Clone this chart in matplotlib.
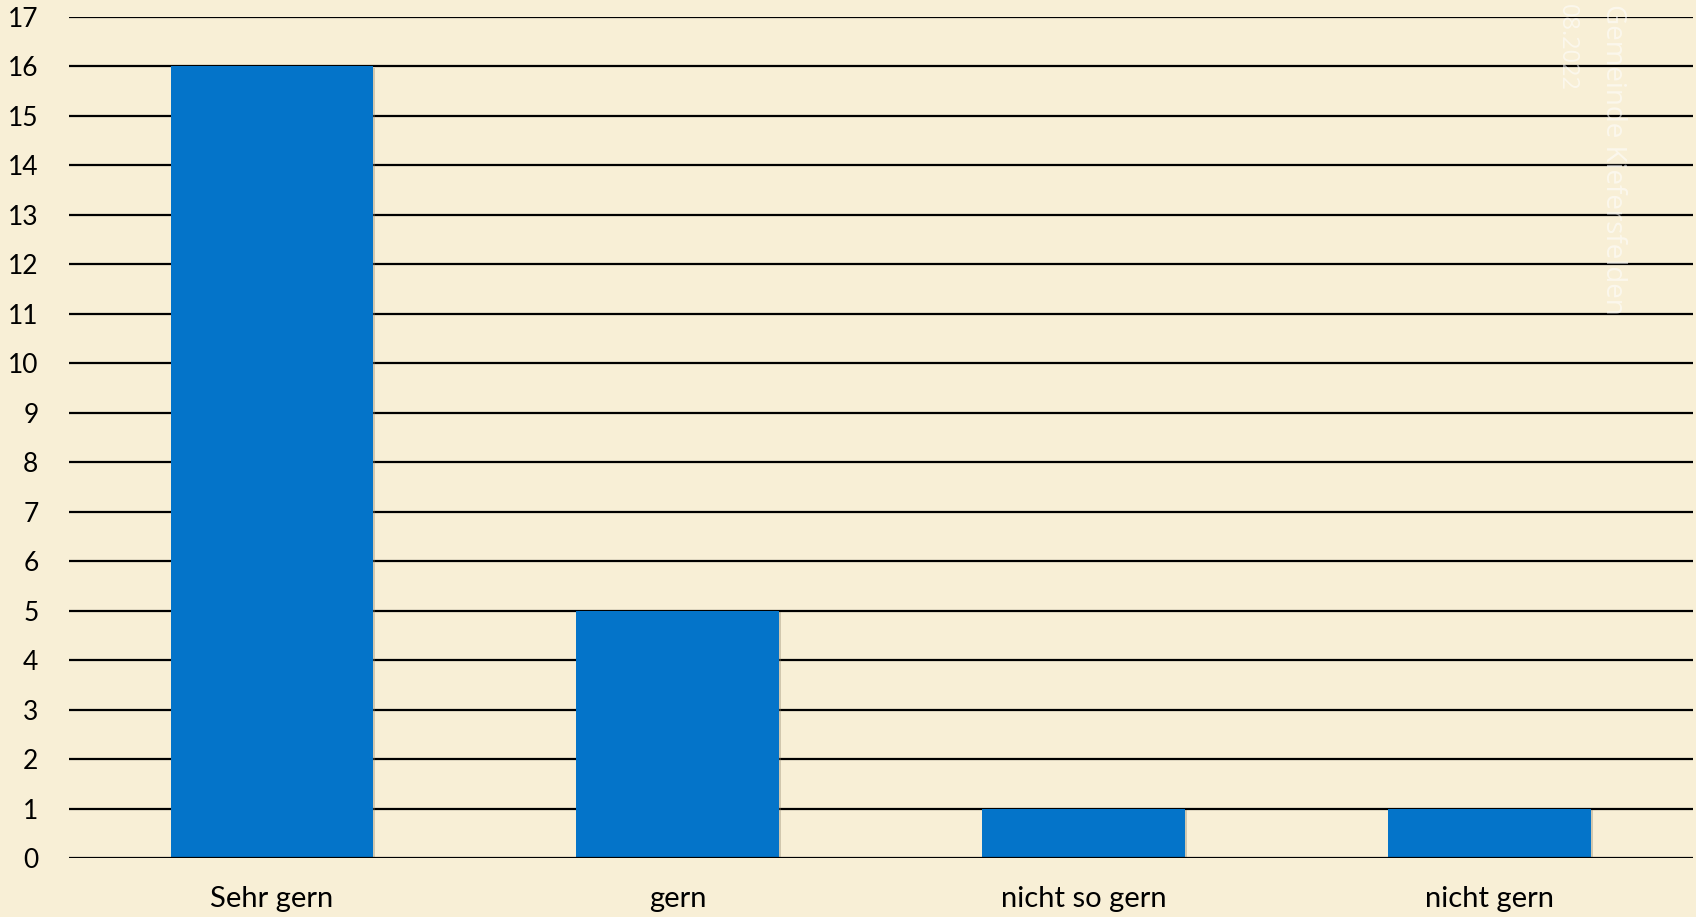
import matplotlib
matplotlib.use("Agg")
import matplotlib.pyplot as plt
import matplotlib.patheffects as pe

# ─────────────────────────────────────────────
# Data
# ─────────────────────────────────────────────
categories = ["Sehr gern", "gern", "nicht so gern", "nicht gern"]
counts     = [16, 5, 1, 1]
y_ticks    = list(range(0, 18))

# ─────────────────────────────────────────────
# Style
# ─────────────────────────────────────────────
BG_COLOR  = "#F8EFD6"
BAR_COLOR = "#0474C9"
FONT      = ["Lato", "DejaVu Sans"]

plt.rcParams["font.family"] = FONT

fig = plt.figure(figsize=(16.96, 9.17), dpi=100, facecolor=BG_COLOR)
ax = fig.add_axes([0.0407, 0.064, 0.9573, 0.9175])
ax.set_facecolor(BG_COLOR)

x = list(range(len(categories)))
bars = ax.bar(x, counts, width=0.5, color=BAR_COLOR, zorder=3)
for b in bars:
    b.set_path_effects([pe.SimplePatchShadow(offset=(1, -1), shadow_rgbFace="#8a7f66", alpha=0.35),
                        pe.Normal()])

# horizontal grid lines
for v in y_ticks:
    ax.axhline(v, color="black", lw=1.6, zorder=2 if v > 0 else 4)

ax.set_xlim(-0.5, len(categories) - 0.5)
ax.set_ylim(0, 17)
ax.set_yticks(y_ticks)
ax.set_yticklabels([str(v) for v in y_ticks], fontsize=19)
ax.set_xticks(x)
ax.set_xticklabels(categories, fontsize=21)
ax.tick_params(axis="y", length=0, pad=22)
ax.tick_params(axis="x", length=0, pad=20)
for s in ax.spines.values():
    s.set_visible(False)

# watermark (faint, rotated)
fig.text(0.951, 0.996, "Gemeinde Kiefersfelden", rotation=270, fontsize=20,
         color="white", alpha=0.55, ha="center", va="top", family=["Open Sans", "DejaVu Sans"])
fig.text(0.924, 0.996, "08.2022", rotation=270, fontsize=17,
         color="white", alpha=0.55, ha="center", va="top", family=["Open Sans", "DejaVu Sans"])

plt.savefig("out.png", dpi=100, facecolor=BG_COLOR)
plt.close()
